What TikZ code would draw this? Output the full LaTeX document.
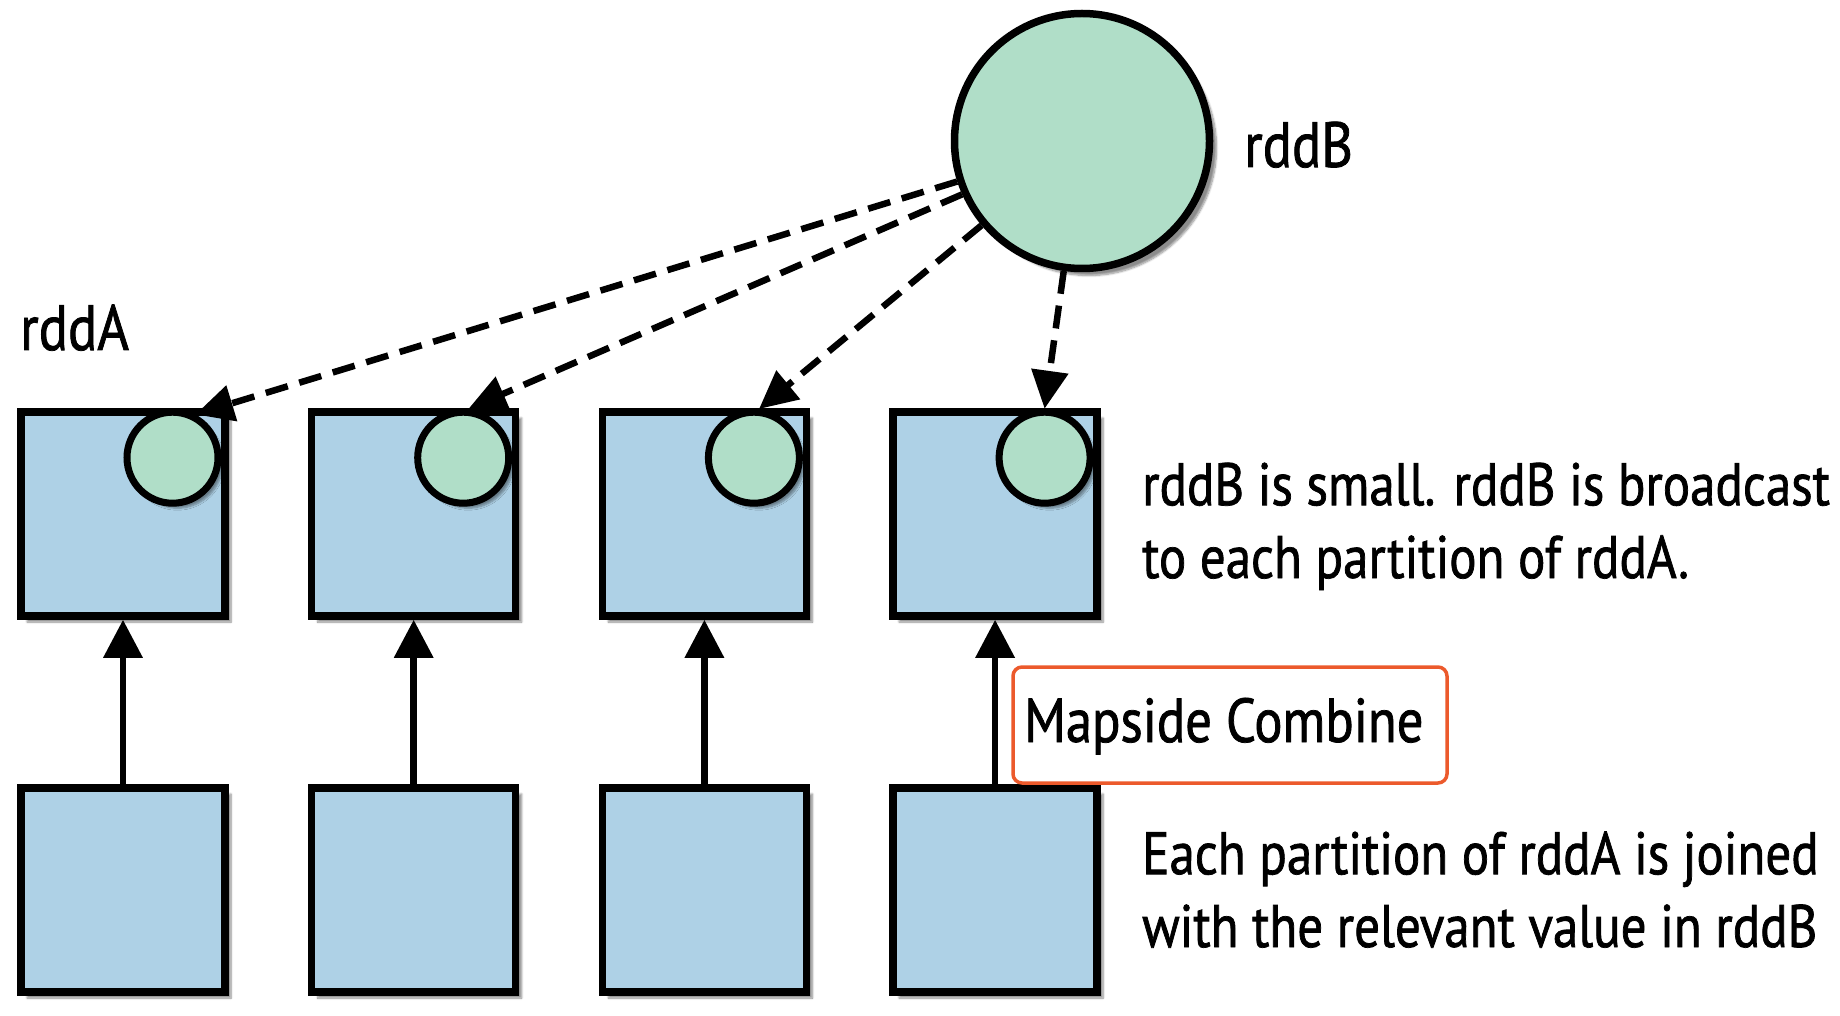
\documentclass[tikz,border=0pt]{standalone}
\usepackage{fontspec}
\setmainfont{PT Sans}[FakeStretch=0.85,FakeBold=1.2]
\usetikzlibrary{arrows.meta,shadows.blur}
\definecolor{boxblue}{HTML}{AED1E6}
\definecolor{rddgreen}{HTML}{B0DEC8}
\definecolor{hlorange}{HTML}{EC5A2C}
\tikzset{
  part/.style={rectangle, draw=black, line width=7.5pt, fill=boxblue, minimum size=204pt, inner sep=0pt,
    blur shadow={shadow xshift=6pt, shadow yshift=-6pt, shadow blur steps=8, shadow opacity=45}},
  smallrdd/.style={circle, draw=black, line width=7pt, fill=rddgreen, minimum size=91pt, inner sep=0pt,
    blur shadow={shadow xshift=5pt, shadow yshift=-5pt, shadow blur steps=6, shadow opacity=40}},
  bigrdd/.style={circle, draw=black, line width=7.5pt, fill=rddgreen, minimum size=255pt, inner sep=0pt,
    blur shadow={shadow xshift=7pt, shadow yshift=-7pt, shadow blur steps=8, shadow opacity=45}},
  solidarrow/.style={line width=6.5pt, -{Triangle[length=38pt,width=38pt]}},
  bcast/.style={line width=6.5pt, dash pattern=on 23pt off 12pt, -{Triangle[length=38pt,width=36pt]}},
  lbl/.style={font=\fontsize{64}{72}\selectfont, inner sep=0pt, anchor=base west},
  body/.style={font=\fontsize{60}{72.8}\selectfont, inner sep=0pt, anchor=base west, align=left},
  hlbox/.style={draw=hlorange, line width=3.5pt, rounded corners=9pt, fill=white, minimum width=434pt, minimum height=116pt, inner sep=0pt}
}
\begin{document}
\begin{tikzpicture}[x=1pt,y=-1pt]
\useasboundingbox (0,0) rectangle (1840,1016);
% bottom partitions
\foreach \i/\xx in {1/123,2/413.7,3/704.4,4/995.1}{
  \node[part] (b\i) at (\xx,890) {};
}
% top partitions with small circles
\foreach \i/\xx in {1/123,2/413.7,3/704.4,4/995.1}{
  \node[part] (t\i) at (\xx,514) {};
  \node[smallrdd] (c\i) at (\xx+49.5,457.7) {};
}
% big circle
\node[bigrdd] (B) at (1082,141) {};
% labels
\node[lbl] (labB) at (1244,167) {rddB};
\node[lbl] (labA) at (20,350) {rddA};
% vertical arrows
\foreach \i in {1,2,3,4}{
  \draw[solidarrow] (b\i.north) -- (t\i.south);
}
% highlight box
\node[hlbox] (hl) at (1230,725) {};
\node[font=\fontsize{62}{72}\selectfont, inner sep=0pt, anchor=base west] (mc) at (1024,742) {Mapside Combine};
% broadcast arrows
\draw[bcast] (B.198) -- (c1.62);
\draw[bcast] (B.204) -- (c2.84);
\draw[bcast] (B.220) -- (c3.84);
\draw[bcast] (B.262) -- (c4.north);
% descriptions
\node[body] (d1) at (1142,578) {rddB is small. rddB is broadcast\\to each partition of rddA.};
\node[body] (d2) at (1142,947) {Each partition of rddA is joined\\with the relevant value in rddB};
\end{tikzpicture}
\end{document}
